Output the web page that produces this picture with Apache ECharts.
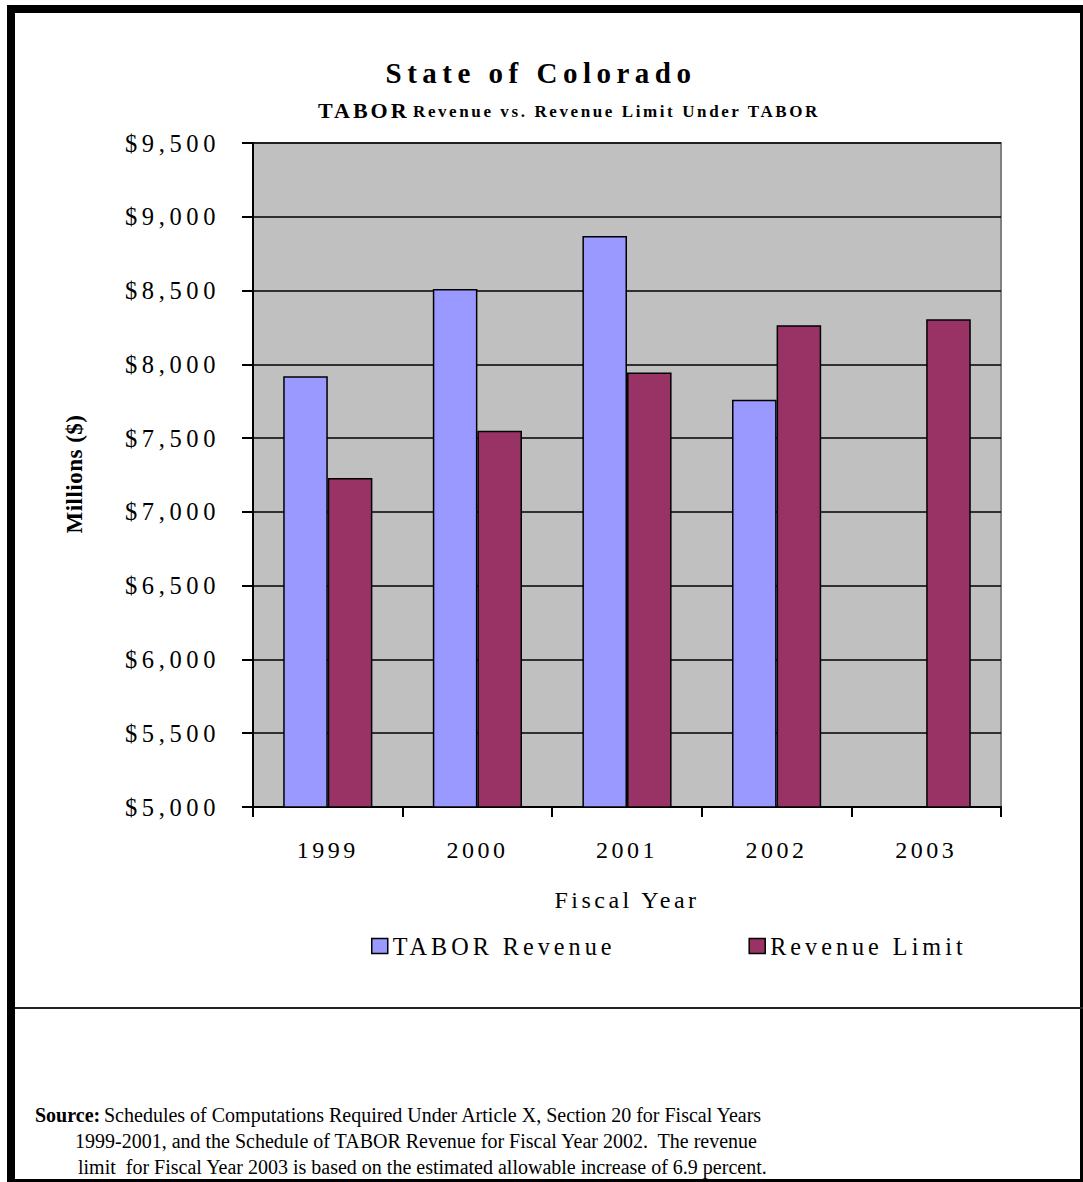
<!DOCTYPE html>
<html>
<head>
<meta charset="utf-8">
<script src="https://cdn.jsdelivr.net/npm/echarts@6/dist/echarts.min.js"></script>
<style>
html,body{margin:0;padding:0;background:#fff;}
#c{width:1083px;height:1182px;}
#c svg text{letter-spacing:3.5px;}
#c svg text[style*="24.5px"]{letter-spacing:4.6px;}
#c svg text[style*="24.2px"]{letter-spacing:4px;}
#c svg text[style*="29px"]{letter-spacing:5.5px;}
#c svg text[style*="22px"]{letter-spacing:3px;}
#c svg text[style*="17px"]{letter-spacing:2.6px;}
#c svg text[style*="23px"]{letter-spacing:0.5px;}
#c svg text[style*="20px"]{letter-spacing:0;}
</style>
</head>
<body>
<div id="c"></div>
<script>
// ---- data ----
const categories = ['1999', '2000', '2001', '2002', '2003'];
const taborRevenue = [7920, 8510, 8870, 7760, null];
const revenueLimit = [7230, 7550, 7945, 8265, 8305];
const seriesNames = ['TABOR Revenue', 'Revenue Limit'];
const yMin = 5000, yMax = 9500, yStep = 500;
const titleText = 'State of Colorado';
const subtitleLead = 'TABOR';
const subtitleRest = 'Revenue vs. Revenue Limit Under TABOR';
const yAxisName = 'Millions ($)';
const xAxisName = 'Fiscal Year';
const sourceLabel = 'Source:';
const sourceLines = [
  'Schedules of Computations Required Under Article X, Section 20 for Fiscal Years',
  '1999-2001, and the Schedule of TABOR Revenue for Fiscal Year 2002.  The revenue',
  'limit  for Fiscal Year 2003 is based on the estimated allowable increase of 6.9 percent.'
];

const FONT = 'Liberation Serif';
const chart = echarts.init(document.getElementById('c'), null, {renderer: 'svg'});
chart.setOption({
  animation: false,
  backgroundColor: '#ffffff',
  textStyle: {fontFamily: FONT, color: '#000'},
  grid: {
    left: 253, right: 82, top: 143, bottom: 375,
    show: true, backgroundColor: '#C0C0C0', borderColor: '#808080', borderWidth: 2
  },
  xAxis: {
    type: 'category',
    data: categories,
    axisLine: {lineStyle: {color: '#000', width: 2}},
    axisTick: {show: true, alignWithLabel: false, length: 10, lineStyle: {color: '#000', width: 2}},
    axisLabel: {color: '#000', fontSize: 24, fontFamily: FONT, margin: 31},
    name: xAxisName,
    nameLocation: 'middle',
    nameGap: 81,
    nameTextStyle: {color: '#000', fontSize: 24, fontFamily: FONT, verticalAlign: 'top'}
  },
  yAxis: {
    type: 'value',
    min: yMin, max: yMax, interval: yStep,
    axisLine: {show: true, lineStyle: {color: '#000', width: 2}},
    axisTick: {show: true, length: 11, lineStyle: {color: '#000', width: 2}},
    axisLabel: {
      color: '#000', fontSize: 24.5, fontFamily: FONT, margin: 33,
      formatter: function (v) { return '$' + v.toLocaleString('en-US'); }
    },
    splitLine: {show: true, lineStyle: {color: '#000', width: 1.5}}
  },
  legend: {
    left: 366, top: 929,
    itemWidth: 16, itemHeight: 15, itemGap: 185,
    icon: 'rect',
    itemStyle: {borderColor: '#000', borderWidth: 1.5},
    textStyle: {color: '#000', fontSize: 24.2, fontFamily: FONT},
    data: seriesNames
  },
  series: [
    {
      name: seriesNames[0], type: 'bar', data: taborRevenue,
      barWidth: '29.8%', barGap: '0%',
      itemStyle: {color: '#9999FF', borderColor: '#000', borderWidth: 1.5}
    },
    {
      name: seriesNames[1], type: 'bar', data: revenueLimit,
      barWidth: '29.8%', barGap: '0%',
      itemStyle: {color: '#993366', borderColor: '#000', borderWidth: 1.5}
    }
  ],
  graphic: [
    // frame
    {type: 'rect', shape: {x: 7, y: 5, width: 8, height: 1177}, style: {fill: '#000'}, silent: true},
    {type: 'rect', shape: {x: 7, y: 5, width: 1076, height: 8}, style: {fill: '#000'}, silent: true},
    {type: 'rect', shape: {x: 1080, y: 5, width: 3, height: 1177}, style: {fill: '#000'}, silent: true},
    {type: 'rect', shape: {x: 7, y: 1179, width: 1076, height: 3}, style: {fill: '#000'}, silent: true},
    // separator
    {type: 'line', shape: {x1: 15, y1: 1008, x2: 1083, y2: 1008}, style: {stroke: '#222', lineWidth: 2}, silent: true},
    // titles
    {type: 'text', x: 541, y: 73, style: {text: titleText, fill: '#000', font: 'bold 29px "' + FONT + '"', textAlign: 'center', textVerticalAlign: 'middle'}},
    {type: 'text', x: 318, y: 121, style: {text: subtitleLead, fill: '#000', font: 'bold 22px "' + FONT + '"', textAlign: 'left', textVerticalAlign: 'bottom'}},
    {type: 'text', x: 413, y: 120, style: {text: subtitleRest, fill: '#000', font: 'bold 17px "' + FONT + '"', textAlign: 'left', textVerticalAlign: 'bottom'}},
    // y axis name
    {type: 'text', x: 74, y: 474, rotation: Math.PI / 2,
     style: {text: yAxisName, fill: '#000', font: 'bold 23px "' + FONT + '"', textAlign: 'center', textVerticalAlign: 'middle'}},
    // source
    {type: 'text', x: 35, y: 1115, style: {text: sourceLabel, fill: '#000', font: 'bold 20px "' + FONT + '"', textAlign: 'left', textVerticalAlign: 'middle'}},
    {type: 'text', x: 104, y: 1115, style: {text: sourceLines[0], fill: '#000', font: '20px "' + FONT + '"', textAlign: 'left', textVerticalAlign: 'middle'}},
    {type: 'text', x: 75, y: 1141, style: {text: sourceLines[1], fill: '#000', font: '20px "' + FONT + '"', textAlign: 'left', textVerticalAlign: 'middle'}},
    {type: 'text', x: 78, y: 1167, style: {text: sourceLines[2], fill: '#000', font: '20px "' + FONT + '"', textAlign: 'left', textVerticalAlign: 'middle'}}
  ]
});
</script>
</body>
</html>
